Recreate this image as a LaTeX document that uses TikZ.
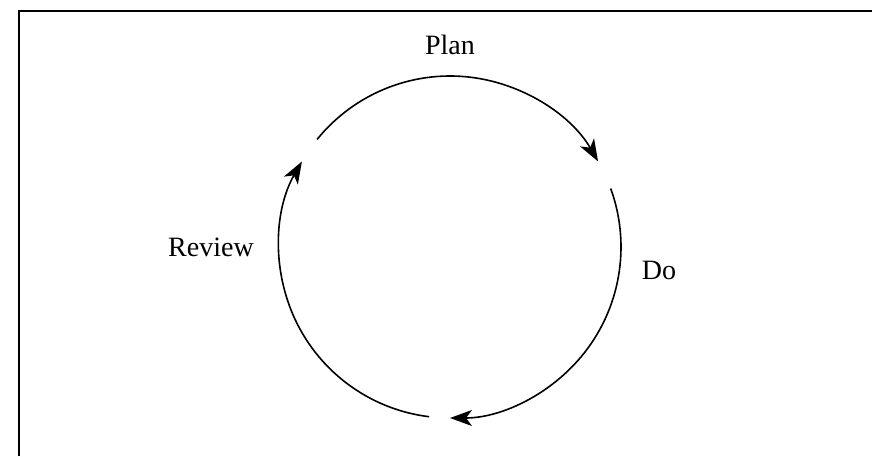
\documentclass[tikz,border=0pt]{standalone}
\usepackage{fontspec}
\setmainfont{Liberation Serif}
\usetikzlibrary{arrows.meta}

\begin{document}
\begin{tikzpicture}[x=0.5pt, y=0.5pt, font=\fontsize{14}{17}\selectfont,
        cycle arrow/.style={line width=0.8pt, -{Stealth[length=11pt, width=8pt, inset=3pt]}}]
        \useasboundingbox (0,0) rectangle (872,456);
        \draw[line width=0.8pt] (19,0) -- (19,445) -- (872,445);
        \coordinate (c) at (450,209);
        \node at (450,411) (plan) {Plan};
        \node at (659,186) (do) {Do};
        \node at (211,209) (review) {Review};
        \coordinate (planstart) at ([shift={(141:171)}]c);
        \coordinate (dostart) at ([shift={(20:171)}]c);
        \coordinate (reviewstart) at ([shift={(263:171)}]c);
        \draw [cycle arrow] (planstart) arc[start angle=141, end angle=30, radius=85.5pt];
        \draw [cycle arrow] (dostart) arc[start angle=20, end angle=-90, radius=85.5pt];
        \draw [cycle arrow] (reviewstart) arc[start angle=263, end angle=150, radius=85.5pt];
    \end{tikzpicture}
\end{document}
